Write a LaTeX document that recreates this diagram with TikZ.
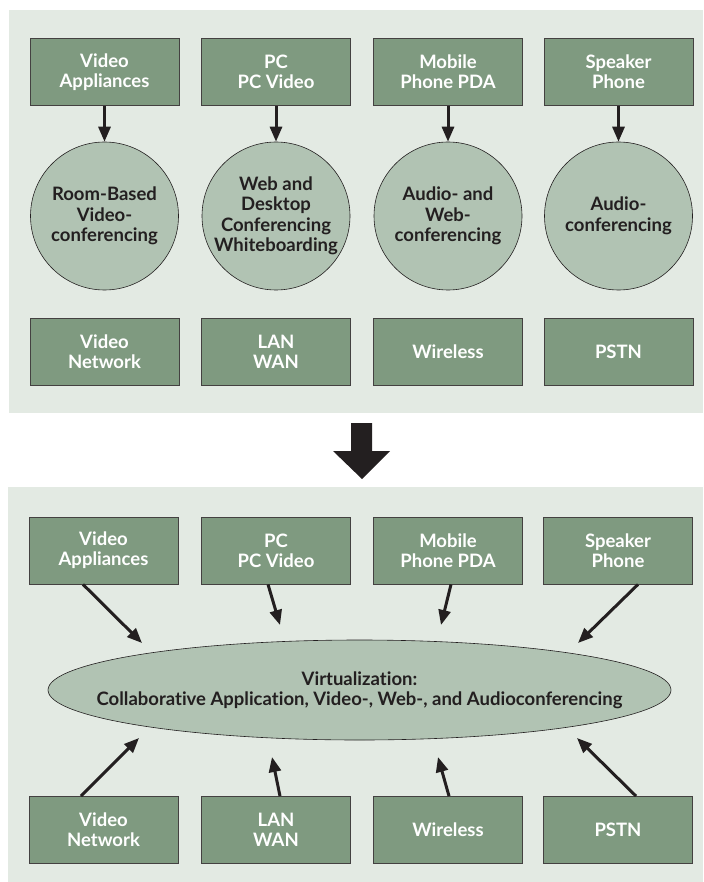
\documentclass[tikz,border=0pt]{standalone}
\usepackage{fontspec}
\setmainfont{Lato}[Ligatures=NoCommon]
\usetikzlibrary{arrows.meta,shapes.geometric}
\definecolor{panelbg}{HTML}{E3EAE3}
\definecolor{boxgreen}{HTML}{7F9A80}
\definecolor{circgreen}{HTML}{B1C3B3}
\definecolor{inkdark}{HTML}{231F20}

\begin{document}
\begin{tikzpicture}[x=1pt,y=-1pt,
    devbox/.style={draw=inkdark!85,line width=0.8pt,fill=boxgreen,minimum width=149pt,minimum height=67pt,inner sep=0pt,text=white,align=center,font=\fontsize{18.5}{20}\selectfont\bfseries},
    confcirc/.style={circle,draw=inkdark,line width=0.6pt,fill=circgreen,minimum size=148pt,inner sep=0pt,text=inkdark,align=center,font=\fontsize{18.5}{20.5}\selectfont\bfseries},
    feed/.style={draw=inkdark,line width=3pt,-{Triangle[length=15pt,width=12pt]}}]
    \useasboundingbox (0,0) rectangle (703,882);

    % panels
    \fill[panelbg](9,10) rectangle (703,413);
    \fill[panelbg](8,487) rectangle (703,882);

    % upper panel: devices, services, networks
    \node[devbox] (tva) at (104.5,72) {Video\\Appliances};
    \node[devbox] (tpc) at (276,72) {PC\\PC Video};
    \node[devbox] (tmob) at (448,72) {Mobile\\Phone PDA};
    \node[devbox] (tspk) at (618.5,72) {Speaker\\Phone};

    \node[confcirc] (croom) at (104.5,216) {Room-Based\\Video-\\conferencing};
    \node[confcirc] (cweb) at (276,216) {Web and\\Desktop\\Conferencing\\Whiteboarding};
    \node[confcirc] (caudweb) at (448,216) {Audio- and\\Web-\\conferencing};
    \node[confcirc] (caud) at (618.5,216) {Audio-\\conferencing};

    \node[devbox] (tvn) at (104.5,352) {Video\\Network};
    \node[devbox] (tlan) at (276,352) {LAN\\WAN};
    \node[devbox] (twl) at (448,352) {Wireless};
    \node[devbox] (tpstn) at (618.5,352) {PSTN};

    \draw[feed](tva)--(croom);
    \draw[feed](tpc)--(cweb);
    \draw[feed](tmob)--(caudweb);
    \draw[feed](tspk)--(caud);

    % big arrow between panels
    \fill[inkdark](351,423)--(372,423)--(372,451)--(390,451)--(362,479)--(333,451)--(351,451)--cycle;

    % lower panel: virtualization
    \node[devbox] (bva) at (103.5,550.5) {Video\\Appliances};
    \node[devbox] (bpc) at (276,550.5) {PC\\PC Video};
    \node[devbox] (bmob) at (448,550.5) {Mobile\\Phone PDA};
    \node[devbox] (bspk) at (618,550.5) {Speaker\\Phone};

    \node[ellipse,draw=inkdark,line width=0.6pt,fill=circgreen,minimum width=623pt,minimum height=100pt,inner sep=0pt,
      label={[text=inkdark,align=center,font=\fontsize{18.5}{20}\selectfont\bfseries]center:Virtualization:\\Collaborative Application, Video-, Web-, and Audioconferencing}] (virt) at (359.5,690) {};

    \node[devbox] (bvn) at (103.5,830) {Video\\Network};
    \node[devbox] (blan) at (276,830) {LAN\\WAN};
    \node[devbox] (bwl) at (448,830) {Wireless};
    \node[devbox] (bpstn) at (618,830) {PSTN};

    \coordinate (pva) at (142,643);
    \coordinate (ppc) at (280,625);
    \coordinate (pmob) at (441,625);
    \coordinate (pspk) at (578,643);
    \coordinate (pvn) at (139,738);
    \coordinate (plan) at (272,757);
    \coordinate (pwl) at (438,757);
    \coordinate (ppstn) at (577,738);

    \draw[feed]([xshift=-20.5pt]bva.south)--(pva);
    \draw[feed]([xshift=-8pt]bpc.south)--(ppc);
    \draw[feed]([xshift=3pt]bmob.south)--(pmob);
    \draw[feed]([xshift=20pt]bspk.south)--(pspk);
    \draw[feed]([xshift=-22.5pt]bvn.north)--(pvn);
    \draw[feed]([xshift=4pt]blan.north)--(plan);
    \draw[feed]([xshift=1pt]bwl.north)--(pwl);
    \draw[feed]([xshift=18pt]bpstn.north)--(ppstn);
\end{tikzpicture}
\end{document}
